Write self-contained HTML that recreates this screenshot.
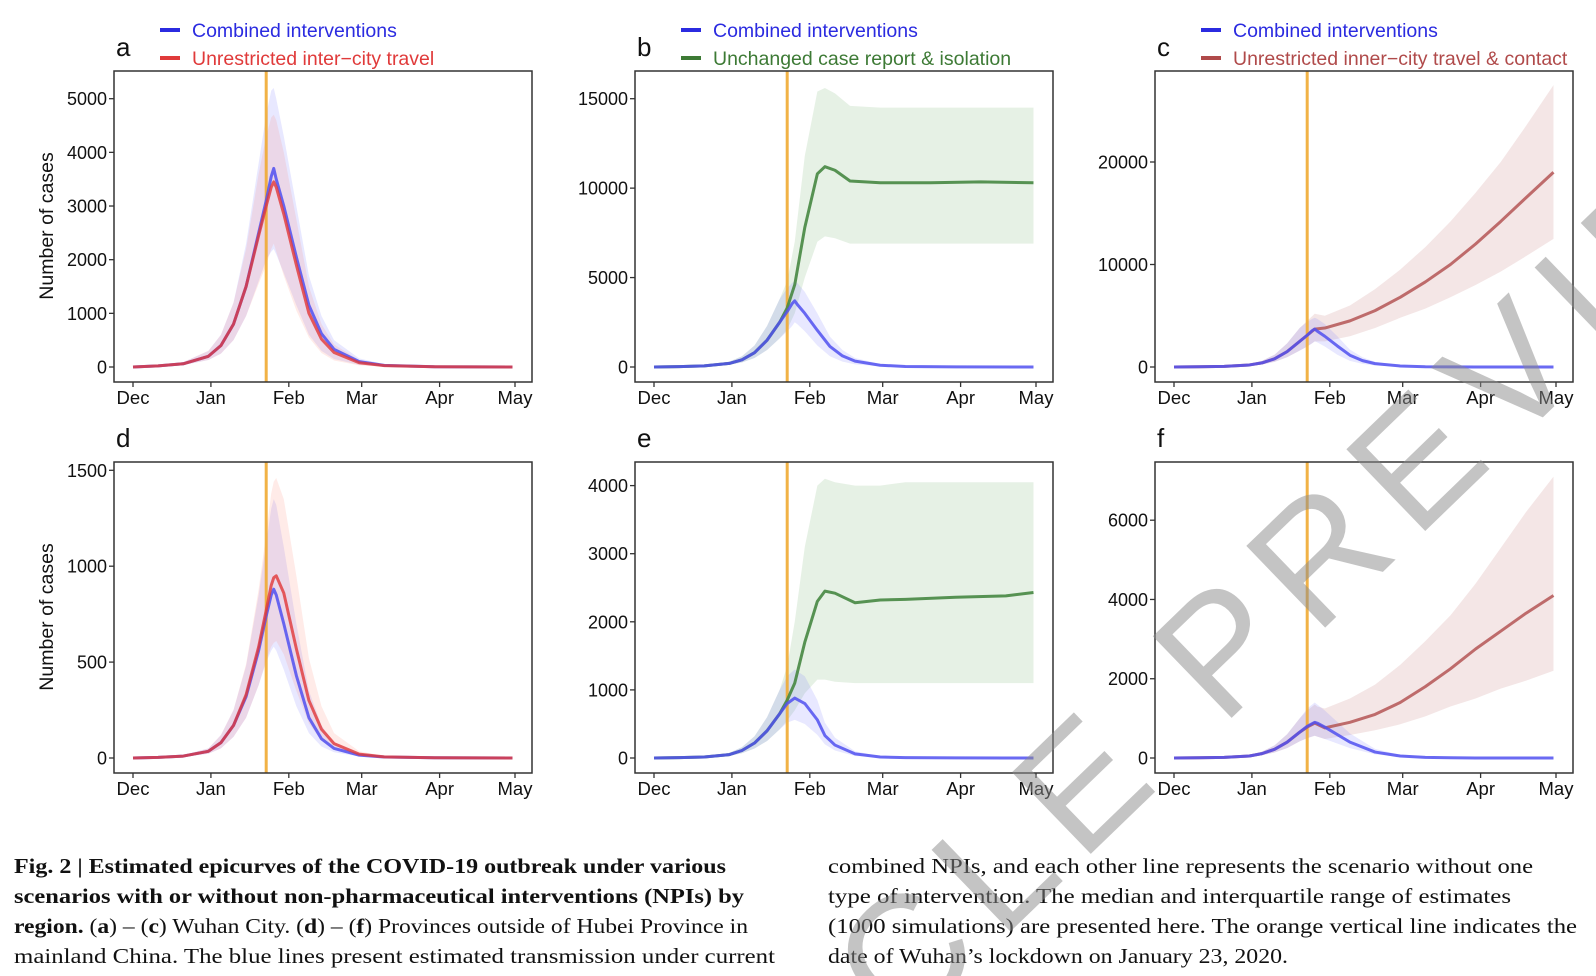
<!DOCTYPE html>
<html><head><meta charset="utf-8">
<style>
html,body{margin:0;padding:0;background:#fff;overflow:hidden;width:1596px;height:976px;}
svg{display:block;font-family:"Liberation Sans",sans-serif;overflow:hidden;}
.cap{font-family:"Liberation Serif",serif;font-size:21px;fill:#111;}
</style></head>
<body>
<svg id="fig" width="1596" height="976" viewBox="0 0 1596 976" xmlns="http://www.w3.org/2000/svg">
<defs><clipPath id="clip"><rect x="0" y="0" width="1596" height="976"/></clipPath></defs>
<g id="panels"></g>
<g>
<text class="cap" x="14" y="873" textLength="712" lengthAdjust="spacingAndGlyphs" font-weight="bold">Fig. 2 | Estimated epicurves of the COVID-19 outbreak under various</text>
<text class="cap" x="14" y="903" textLength="730" lengthAdjust="spacingAndGlyphs" font-weight="bold">scenarios with or without non-pharmaceutical interventions (NPIs) by</text>
<text class="cap" x="14" y="933" textLength="734" lengthAdjust="spacingAndGlyphs"><tspan font-weight="bold">region.</tspan> (<tspan font-weight="bold">a</tspan>) – (<tspan font-weight="bold">c</tspan>) Wuhan City. (<tspan font-weight="bold">d</tspan>) – (<tspan font-weight="bold">f</tspan>) Provinces outside of Hubei Province in</text>
<text class="cap" x="14" y="963" textLength="761" lengthAdjust="spacingAndGlyphs">mainland China. The blue lines present estimated transmission under current</text>
<text class="cap" x="828" y="873" textLength="705" lengthAdjust="spacingAndGlyphs">combined NPIs, and each other line represents the scenario without one</text>
<text class="cap" x="828" y="903" textLength="683" lengthAdjust="spacingAndGlyphs">type of intervention. The median and interquartile range of estimates</text>
<text class="cap" x="828" y="933" textLength="749" lengthAdjust="spacingAndGlyphs">(1000 simulations) are presented here. The orange vertical line indicates the</text>
<text class="cap" x="828" y="963" textLength="460" lengthAdjust="spacingAndGlyphs">date of Wuhan’s lockdown on January 23, 2020.</text>
</g>
<g clip-path="url(#clip)">
<text x="0" y="0" transform="translate(575,1352) rotate(-44)" font-size="165" fill="#8a8a8a" fill-opacity="0.5" textLength="1780" lengthAdjust="spacing">ARTICLE PREVIEW</text>
</g>
</svg>
<script>
const months = ["Dec","Jan","Feb","Mar","Apr","May"];
const monthDays = [0,31,62,91,122,152];
const lockdownDay = 53;

const daysA = [0,10,20,30,35,40,45,50,53,55,56,57,60,65,70,75,80,90,100,120,151];
const blueA = [0,20,60,200,400,800,1500,2500,3100,3550,3700,3500,3000,2050,1150,620,330,100,30,5,0];
const blueAlo = [0,10,35,130,250,500,950,1600,2000,2150,2200,2100,1750,1150,600,300,150,40,10,2,0];
const blueAhi = [0,30,90,300,600,1200,2300,3800,4700,5150,5200,5000,4300,3000,1700,950,500,160,50,8,0];
const redA = [0,20,60,200,400,800,1500,2450,3000,3350,3450,3350,2850,1900,1000,520,270,80,25,4,0];
const redAlo = [0,10,35,130,250,500,950,1550,1900,2200,2300,2150,1700,1050,550,260,120,30,8,2,0];
const redAhi = [0,30,90,300,600,1200,2200,3600,4300,4650,4700,4600,4000,2750,1500,800,420,130,40,6,0];

const daysB = [0,10,20,30,35,40,45,50,53,56,60,65,68,72,78,90,110,130,151];
const greenB = [0,20,60,200,400,800,1500,2500,3300,4600,7800,10800,11200,11000,10400,10300,10300,10350,10300];
const greenBlo = [0,10,35,130,250,500,950,1600,2100,3000,5000,7000,7300,7200,6900,6900,6900,6900,6900];
const greenBhi = [0,30,90,300,600,1200,2300,3800,4800,7000,11800,15400,15600,15300,14600,14500,14500,14500,14500];
const daysBlue = [0,10,20,30,35,40,45,50,53,55,56,57,60,65,70,75,80,90,100,120,151];
const blueBlo = [0,10,35,130,250,500,950,1600,2000,2300,2500,2400,2000,1200,600,300,150,40,10,2,0];
const blueBhi = [0,30,90,300,600,1200,2300,3800,4400,4700,4800,4700,4200,3000,1700,950,500,160,50,8,0];

const daysC = [0,10,20,30,35,40,45,50,53,56,60,70,80,90,100,110,120,130,140,151];
const redC = [0,20,60,200,400,800,1500,2500,3100,3700,3800,4500,5500,6800,8300,10000,12000,14200,16500,19000];
const redClo = [0,10,35,130,250,500,950,1600,2000,2500,2500,3000,3800,4800,5700,6800,8000,9300,10800,12500];
const redChi = [0,30,90,300,600,1200,2300,3800,4500,5200,5000,6000,7600,9500,11700,14200,17000,20000,23500,27500];

const daysD = [0,10,20,30,35,40,45,50,53,55,56,57,60,65,70,75,80,90,100,120,151];
const blueD = [0,3,10,35,80,170,320,560,740,850,880,850,700,430,210,100,50,15,5,1,0];
const blueDlo = [0,2,6,22,50,110,210,380,500,560,580,560,460,270,130,60,30,8,3,1,0];
const blueDhi = [0,5,15,50,120,250,480,850,1120,1300,1350,1320,1100,700,350,170,80,25,8,2,0];
const redD = [0,3,10,35,80,170,330,580,770,900,940,950,860,570,300,150,75,20,6,1,0];
const redDlo = [0,2,6,22,50,110,210,380,510,580,600,610,540,350,180,90,45,12,4,1,0];
const redDhi = [0,5,15,50,120,250,490,880,1170,1380,1440,1460,1350,950,520,270,130,35,10,2,0];

const daysE = [0,10,20,30,35,40,45,50,53,56,60,65,68,72,80,90,100,120,140,151];
const greenE = [0,5,15,50,110,220,400,650,850,1100,1700,2300,2450,2420,2280,2320,2330,2360,2380,2430];
const greenElo = [0,3,9,30,70,140,250,420,550,700,950,1150,1150,1120,1100,1100,1100,1100,1100,1100];
const greenEhi = [0,7,22,75,160,320,600,1000,1350,2000,3100,4000,4100,4050,4000,4000,4050,4050,4050,4050];
const blueE = [0,5,15,50,110,220,400,650,800,880,800,560,330,190,60,15,5,1,0,0];
const blueElo = [0,3,9,30,70,140,250,420,520,560,500,340,200,110,30,8,3,1,0,0];
const blueEhi = [0,7,22,75,160,320,600,1000,1200,1300,1200,850,520,300,100,25,8,2,0,0];

const daysF = [0,10,20,30,35,40,45,50,53,56,57,60,70,80,90,100,110,120,130,140,151];
const redF = [0,5,15,50,110,220,400,650,780,880,850,760,900,1100,1400,1800,2250,2750,3200,3650,4100];
const redFlo = [0,3,9,30,70,140,250,420,500,560,540,480,580,700,850,1050,1300,1500,1750,1950,2200];
const redFhi = [0,7,22,75,160,320,600,1000,1200,1350,1300,1250,1500,1850,2350,2950,3600,4400,5300,6200,7100];
const blueF = [0,5,15,50,110,220,400,650,800,900,880,780,400,150,50,15,5,1,0,0,0];
const blueFlo = [0,3,9,30,70,140,250,420,500,560,540,480,250,90,30,8,3,1,0,0,0];
const blueFhi = [0,7,22,75,160,320,600,1000,1250,1400,1350,1200,620,230,80,25,8,2,0,0,0];

const ticksA = [0,1000,2000,3000,4000,5000];
const ticksB = [0,5000,10000,15000];
const ticksC = [0,10000,20000];
const ticksD = [0,500,1000,1500];
const ticksE = [0,1000,2000,3000,4000];
const ticksF = [0,2000,4000,6000];

const C = {
  blue:{line:"rgba(80,80,240,0.85)",band:"rgba(110,110,255,0.16)"},
  red:{line:"rgba(225,55,55,0.8)",band:"rgba(255,120,100,0.15)"},
  green:{line:"rgba(70,135,65,0.9)",band:"rgba(130,185,125,0.2)"},
  brown:{line:"rgba(180,85,85,0.85)",band:"rgba(200,130,130,0.2)"}
};

const NS = "http://www.w3.org/2000/svg";
const root = document.getElementById('panels');
function mk(tag, attrs, parent){
  const e = document.createElementNS(NS, tag);
  for (const k in attrs) e.setAttribute(k, attrs[k]);
  parent.appendChild(e);
  return e;
}

function panel(p){
  const g = mk('g', {}, root);
  
  
  const x0 = p.bx + 19, x1 = p.bx + 401;
  const xs = d => x0 + (x1 - x0) * d / 152;
  const y0 = p.by + 296, ys = v => y0 - (y0 - p.yTop) * v / p.yMax;
  p.series.forEach(s => {
    let pts = s.days.map((d,i)=>xs(d)+','+ys(s.hi[i])).join(' ');
    pts += ' ' + s.days.slice().reverse().map((d,i)=>{const j=s.days.length-1-i;return xs(d)+','+ys(s.lo[j]);}).join(' ');
    const b = mk('polygon', {points:pts, fill:C[s.color].band}, g);
    
    
  });
  const lk = mk('line', {x1:xs(lockdownDay), x2:xs(lockdownDay), y1:p.by, y2:p.by+311, stroke:"rgba(240,170,50,0.9)", 'stroke-width':3}, g);
  
  
  p.series.forEach(s => {
    const l = mk('polyline', {points:s.days.map((d,i)=>xs(d)+','+ys(s.med[i])).join(' '), fill:'none', stroke:C[s.color].line, 'stroke-width':3, 'stroke-linejoin':'round'}, g);
    
    
  });
  const box = mk('rect', {x:p.bx, y:p.by, width:418, height:311, fill:'none', stroke:'#333', 'stroke-width':1.5}, g);
  
  
  p.ticks.forEach(t => {
    const y = ys(t);
    mk('line', {x1:p.bx-5, x2:p.bx, y1:y, y2:y, stroke:'#333', 'stroke-width':1.3}, g);
    const tx = mk('text', {x:p.bx-7, y:y+6.5, 'text-anchor':'end', 'font-size':18, fill:'#111'}, g);
    tx.textContent = t;
    
    
  });
  months.forEach((m,i) => {
    const x = xs(monthDays[i]);
    mk('line', {x1:x, x2:x, y1:p.by+311, y2:p.by+316, stroke:'#333', 'stroke-width':1.3}, g);
    const tx = mk('text', {x:x, y:p.by+333, 'text-anchor':'middle', 'font-size':18.5, fill:'#111'}, g);
    tx.textContent = m;
    
    
  });
  const lt = mk('text', {x:p.bx+2, y:p.by-15, 'font-size':26, fill:'#111'}, g);
  lt.textContent = p.letter;
  
  
  if (p.ytitle){
    const yt = mk('text', {x:0, y:0, transform:`translate(53,${p.by+155}) rotate(-90)`, 'text-anchor':'middle', 'font-size':19.5, fill:'#111'}, g);
    yt.textContent = 'Number of cases';
    
    
  }
  (p.legend||[]).forEach((L,i) => {
    const y = 30 + i*28;
    mk('line', {x1:p.bx+46, x2:p.bx+66, y1:y, y2:y, stroke:L.c, 'stroke-width':4}, g);
    const tx = mk('text', {x:p.bx+78, y:y+7, 'font-size':19.5, fill:L.c}, g);
    tx.textContent = L.t;
    
    
  });
}

const LB = {t:"Combined interventions", c:"#2b2be0"};
panel({letter:'a', bx:114, by:71, yTop:98.7, yMax:5000, ticks:ticksA, ytitle:true,
  legend:[LB,{t:"Unrestricted inter\u2212city travel", c:"#e03a3a"}],
  series:[{name:'combined',color:'blue',days:daysA,med:blueA,lo:blueAlo,hi:blueAhi},
          {name:'unrestricted-travel',color:'red',days:daysA,med:redA,lo:redAlo,hi:redAhi}]});
panel({letter:'b', bx:635, by:71, yTop:98.7, yMax:15000, ticks:ticksB,
  legend:[LB,{t:"Unchanged case report & isolation", c:"#3d7a35"}],
  series:[{name:'unchanged-isolation',color:'green',days:daysB,med:greenB,lo:greenBlo,hi:greenBhi},
          {name:'combined',color:'blue',days:daysBlue,med:blueA,lo:blueBlo,hi:blueBhi}]});
panel({letter:'c', bx:1155, by:71, yTop:162, yMax:20000, ticks:ticksC,
  legend:[LB,{t:"Unrestricted inner\u2212city travel & contact", c:"#b04a4a"}],
  series:[{name:'unrestricted-contact',color:'brown',days:daysC,med:redC,lo:redClo,hi:redChi},
          {name:'combined',color:'blue',days:daysBlue,med:blueA,lo:blueBlo,hi:blueBhi}]});
panel({letter:'d', bx:114, by:462, yTop:470.3, yMax:1500, ticks:ticksD, ytitle:true,
  series:[{name:'combined',color:'blue',days:daysD,med:blueD,lo:blueDlo,hi:blueDhi},
          {name:'unrestricted-travel',color:'red',days:daysD,med:redD,lo:redDlo,hi:redDhi}]});
panel({letter:'e', bx:635, by:462, yTop:485.6, yMax:4000, ticks:ticksE,
  series:[{name:'unchanged-isolation',color:'green',days:daysE,med:greenE,lo:greenElo,hi:greenEhi},
          {name:'combined',color:'blue',days:daysE,med:blueE,lo:blueElo,hi:blueEhi}]});
panel({letter:'f', bx:1155, by:462, yTop:520.2, yMax:6000, ticks:ticksF,
  series:[{name:'unrestricted-contact',color:'brown',days:daysF,med:redF,lo:redFlo,hi:redFhi},
          {name:'combined',color:'blue',days:daysF,med:blueF,lo:blueFlo,hi:blueFhi}]});
</script>
</body></html>
